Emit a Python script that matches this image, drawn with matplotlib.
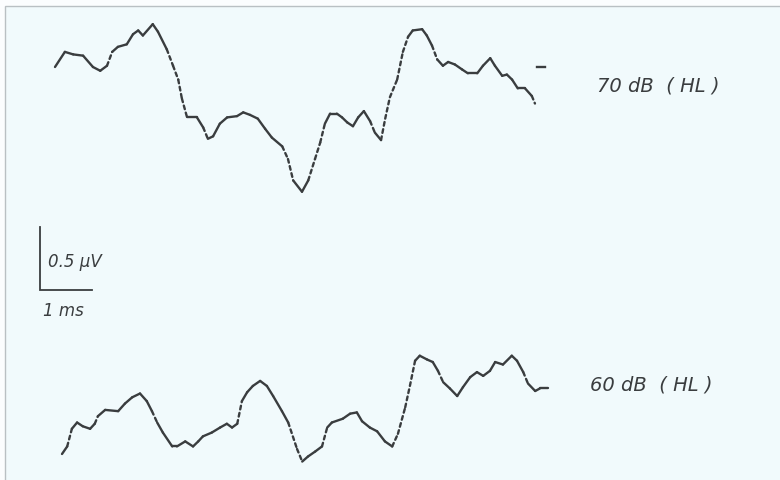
import numpy as np
import matplotlib.pyplot as plt
from matplotlib.patches import Rectangle
from matplotlib.collections import LineCollection

# Averaged evoked responses, time in ms, amplitude in microvolts (relative to trace start)
t_70 = [0.00, 0.19, 0.35, 0.54, 0.73, 0.87, 1.00, 1.10, 1.21, 1.38, 1.50, 1.60, 1.69, 1.88,
        1.98, 2.15, 2.27, 2.37, 2.44, 2.54, 2.73, 2.85, 2.94, 3.04, 3.17, 3.31, 3.50, 3.62,
        3.75, 3.90, 4.04, 4.17, 4.37, 4.48, 4.58, 4.75, 4.87, 5.00, 5.10, 5.19, 5.29, 5.42,
        5.52, 5.62, 5.73, 5.83, 5.94, 6.06, 6.15, 6.27, 6.35, 6.44, 6.58, 6.69, 6.79, 6.88,
        7.06, 7.15, 7.25, 7.35, 7.46, 7.56, 7.69, 7.83, 7.94, 8.12, 8.23, 8.37, 8.46, 8.60,
        8.69, 8.79, 8.90, 9.04, 9.17, 9.23]
v_70 = [0.00, 0.12, 0.10, 0.09, 0.00, -0.03, 0.01, 0.12, 0.16, 0.18, 0.26, 0.29, 0.25, 0.34,
        0.28, 0.14, 0.01, -0.10, -0.25, -0.40, -0.40, -0.48, -0.57, -0.55, -0.45, -0.40, -0.39, -0.36,
        -0.38, -0.41, -0.49, -0.56, -0.63, -0.73, -0.90, -0.99, -0.90, -0.73, -0.60, -0.45, -0.37, -0.37,
        -0.40, -0.44, -0.47, -0.40, -0.35, -0.43, -0.52, -0.58, -0.41, -0.24, -0.10, 0.12, 0.24, 0.29,
        0.30, 0.25, 0.17, 0.06, 0.01, 0.04, 0.02, -0.02, -0.05, -0.05, 0.01, 0.07, 0.01, -0.07,
        -0.06, -0.10, -0.17, -0.17, -0.23, -0.29]

t_60 = [0.00, 0.10, 0.19, 0.29, 0.40, 0.54, 0.63, 0.69, 0.83, 1.08, 1.21, 1.35, 1.50, 1.63,
        1.73, 1.83, 1.94, 2.12, 2.21, 2.37, 2.52, 2.62, 2.71, 2.88, 3.04, 3.17, 3.27, 3.37,
        3.46, 3.56, 3.67, 3.81, 3.94, 4.06, 4.23, 4.35, 4.52, 4.62, 4.73, 4.87, 5.00, 5.10,
        5.19, 5.40, 5.54, 5.67, 5.77, 5.92, 6.06, 6.21, 6.35, 6.46, 6.60, 6.69, 6.79, 6.88,
        7.02, 7.13, 7.23, 7.33, 7.46, 7.60, 7.71, 7.85, 7.98, 8.10, 8.23, 8.33, 8.48, 8.65,
        8.75, 8.87, 8.96, 9.10, 9.19, 9.35]
v_60 = [0.00, 0.06, 0.20, 0.25, 0.22, 0.20, 0.24, 0.30, 0.35, 0.34, 0.40, 0.45, 0.48, 0.42,
        0.34, 0.25, 0.17, 0.06, 0.06, 0.10, 0.06, 0.10, 0.14, 0.17, 0.21, 0.24, 0.21, 0.24,
        0.42, 0.49, 0.54, 0.58, 0.54, 0.46, 0.34, 0.25, 0.04, -0.06, -0.02, 0.02, 0.06, 0.21,
        0.25, 0.28, 0.32, 0.33, 0.26, 0.21, 0.18, 0.10, 0.06, 0.16, 0.37, 0.54, 0.74, 0.78,
        0.75, 0.73, 0.66, 0.57, 0.52, 0.46, 0.53, 0.61, 0.65, 0.62, 0.66, 0.73, 0.71, 0.78,
        0.74, 0.65, 0.56, 0.50, 0.52, 0.52]

labels = ['70 dB  ( HL )', '60 dB  ( HL )']
scale_uv = 0.5
scale_ms = 1.0

PX_MS, PX_UV = 52.0, 126.0      # 52 px per ms, 126 px per uV
W, H = 780, 481
X0, Y0 = 55, 68                 # start of the upper trace in pixels
BG = '#f1fafc'
INK = '#3a3d3f'
LW = 1.7


def trace(ax, t, v, dt=0.0, dv=0.0):
    # the pen leaves a dotted track where the sweep is steep
    x = np.asarray(t) + dt
    y = np.asarray(v) + dv
    segs = [[(x[i], y[i]), (x[i + 1], y[i + 1])] for i in range(len(x) - 1)]
    slope = np.abs(np.diff(y) * PX_UV) / np.maximum(np.diff(x) * PX_MS, 1e-6)
    styles = [(0, (1.6, 1.5)) if s > 2.0 else 'solid' for s in slope]
    lc = LineCollection(segs, colors=INK, linewidths=LW, linestyles=styles,
                        capstyle='round', joinstyle='round')
    ax.add_collection(lc)


fig = plt.figure(figsize=(W / 100, H / 100), dpi=100)
fig.patch.set_facecolor('#fbfdfe')
fig.patches.append(Rectangle((5 / W, -0.01), 1, 1.01 - 7 / H, transform=fig.transFigure,
                             facecolor=BG, edgecolor='#b9c0c3', lw=1.0, zorder=-5))
ax = fig.add_axes([0, 0, 1, 1])
ax.set_facecolor('none')
ax.set_xlim(-X0 / PX_MS, (W - X0) / PX_MS)
ax.set_ylim((Y0 - H) / PX_UV, Y0 / PX_UV)
ax.axis('off')

trace(ax, t_70, v_70)
# short pen mark after the upper sweep
ax.plot([9.27, 9.42], [0.0, 0.0], color=INK, lw=LW)

# lower trace sits 387 px below and 7 px right of the upper one
trace(ax, t_60, v_60, dt=7 / PX_MS, dv=-387 / PX_UV)

# calibration bar
bx, by = -15 / PX_MS, -1.27
ax.plot([bx, bx, bx + scale_ms], [by, by - scale_uv, by - scale_uv],
        color=INK, lw=1.3, solid_joinstyle='miter')
ax.text(bx + 0.15, by - 0.31, '0.5 µV', fontsize=12, style='italic',
        color=INK, ha='left', va='baseline')
ax.text(bx + 0.06, by - scale_uv - 0.09, '1 ms', fontsize=12, style='italic',
        color=INK, ha='left', va='top')

fig.text(597 / W, 1 - 86 / H, labels[0], fontsize=14, style='italic', color=INK,
         ha='left', va='center')
fig.text(590 / W, 1 - 385 / H, labels[1], fontsize=14, style='italic', color=INK,
         ha='left', va='center')

fig.savefig('out.png', dpi=100, facecolor=fig.get_facecolor())
